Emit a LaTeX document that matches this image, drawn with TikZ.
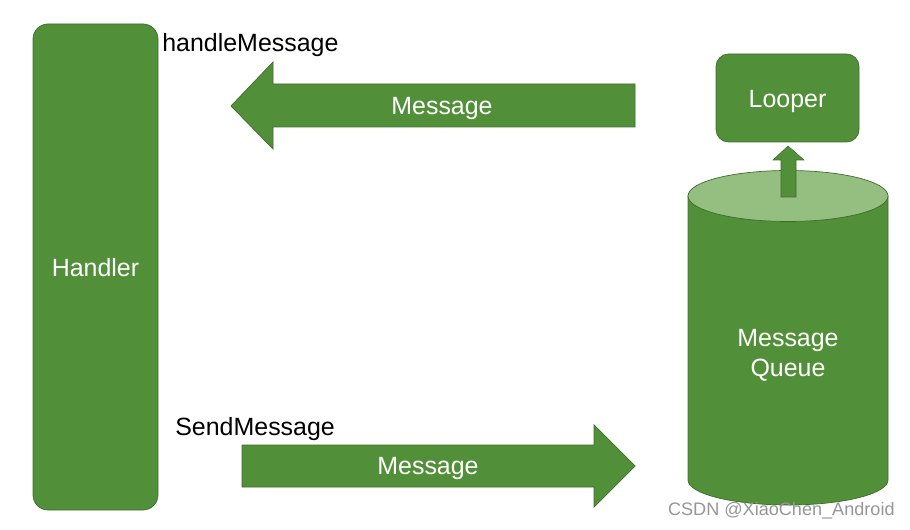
\documentclass[tikz,border=0pt]{standalone}
\usepackage{fontspec}
\setmainfont{Liberation Sans}
\usetikzlibrary{shapes.arrows}
\definecolor{grn}{RGB}{82,143,57}
\definecolor{grnline}{RGB}{62,110,42}
\definecolor{grnlight}{RGB}{149,190,129}
\definecolor{wm}{RGB}{150,150,150}
\begin{document}
\begin{tikzpicture}[x=0.02cm,y=-0.02cm,
  box/.style={fill=grn,draw=grnline,line width=0.4pt,rounded corners=0.3cm},
  wtxt/.style={text=white,font=\fontsize{14.2}{17}\selectfont,align=center},
  btxt/.style={text=black,font=\fontsize{14.2}{17}\selectfont}]
\useasboundingbox (0,0) rectangle (910,530);
% Handler
\draw[box] (33,24) rectangle (158,510);
\node[wtxt] (handler) at (95.5,268) {Handler};
\node[btxt,anchor=west,inner sep=0] (hm) at (162,45) {handleMessage};
% top arrow (left)
\draw[fill=grn,draw=grnline,line width=0.4pt] (635,84) -- (273,84) -- (273,62) -- (231,106) -- (273,149) -- (273,127) -- (635,127) -- cycle;
\node[wtxt] (m1) at (442,109) {Message};
% bottom arrow (right)
\draw[fill=grn,draw=grnline,line width=0.4pt] (242,445) -- (594,445) -- (594,425) -- (635,466) -- (594,507) -- (594,487) -- (242,487) -- cycle;
\node[wtxt] (m2) at (428,469) {Message};
\node[btxt,anchor=west,inner sep=0] (sm) at (175,429) {SendMessage};
% Looper
\draw[box,rounded corners=0.25cm] (716,54) rectangle (859,142);
\node[wtxt] (looper) at (787.5,102) {Looper};
% Cylinder
\draw[fill=grn,draw=grnline,line width=0.4pt] (688,196) -- (688,480) arc[start angle=180,end angle=360,x radius=100,y radius=-25] -- (888,196) -- cycle;
\draw[fill=grnlight,draw=grnline,line width=0.4pt] (788,196) ellipse[x radius=100,y radius=25.5];
\node[wtxt] (mq) at (788,355) {Message\\Queue};
% up arrow
\draw[fill=grn,draw=grnline,line width=0.3pt] (781,197) -- (781,160) -- (773,160) -- (788,146) -- (804,160) -- (796,160) -- (796,197) -- cycle;
% watermark
\node[text=wm,font=\fontsize{10.3}{12}\selectfont,anchor=east,inner sep=0] (wmk) at (895,511) {CSDN @XiaoChen\_Android};
\end{tikzpicture}
\end{document}
